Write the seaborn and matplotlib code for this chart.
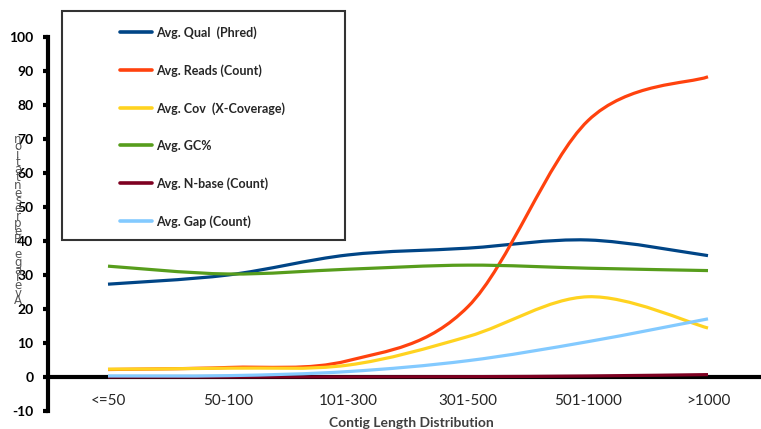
import numpy as np
import pandas as pd
import matplotlib
matplotlib.use("Agg")
import matplotlib.pyplot as plt
import seaborn as sns
from matplotlib.path import Path
from matplotlib.patches import PathPatch, Rectangle
from matplotlib.lines import Line2D

# Contig length bins and per-bin averages
categories = ["<=50", "50-100", "101-300", "301-500", "501-1000", ">1000"]
avg_qual = [27.3, 30.0, 35.9, 37.9, 40.3, 35.7]
avg_reads = [2.2, 2.8, 4.8, 20.7, 75.4, 88.3]
avg_cov = [2.3, 2.6, 3.5, 11.9, 23.6, 14.4]
avg_gc = [32.6, 30.3, 31.7, 32.9, 32.0, 31.3]
avg_nbase = [0.0, 0.0, 0.05, 0.1, 0.3, 0.7]
avg_gap = [0.3, 0.4, 1.6, 4.8, 10.4, 17.1]

series_names = ["Avg. Qual  (Phred)", "Avg. Reads (Count)", "Avg. Cov  (X-Coverage)",
                "Avg. GC%", "Avg. N-base (Count)", "Avg. Gap (Count)"]
series_colors = ["#004586", "#ff420e", "#ffd320", "#579d1c", "#7e0021", "#83caff"]
y_ticks = list(range(-10, 101, 10))

df = pd.DataFrame({
    "bin": categories,
    series_names[0]: avg_qual,
    series_names[1]: avg_reads,
    series_names[2]: avg_cov,
    series_names[3]: avg_gc,
    series_names[4]: avg_nbase,
    series_names[5]: avg_gap,
})
df["pos"] = np.arange(len(df))


def smooth_path(xs, ys):
    """Smoothed line through the points (Catmull-Rom style Bezier pieces)."""
    p = np.column_stack([np.asarray(xs, float), np.asarray(ys, float)])
    n = len(p)
    verts = [tuple(p[0])]
    codes = [Path.MOVETO]
    for i in range(n - 1):
        prev_pt = p[i - 1] if i > 0 else p[i]
        next_pt = p[i + 2] if i + 2 < n else p[i + 1]
        c1 = p[i] + (p[i + 1] - prev_pt) / 6.0
        c2 = p[i + 1] - (next_pt - p[i]) / 6.0
        verts += [tuple(c1), tuple(c2), tuple(p[i + 1])]
        codes += [Path.CURVE4] * 3
    return Path(verts, codes)


sns.set_theme(style="white")
plt.rcParams["font.family"] = ["Lato", "DejaVu Sans"]

fig = plt.figure(figsize=(7.61, 4.29), dpi=100)
ax = fig.add_axes([48 / 761, 18 / 429, 720 / 761, 374 / 429])

palette = sns.color_palette(series_colors)
for name, color in zip(series_names, palette):
    path = smooth_path(df["pos"], df[name])
    ax.add_patch(PathPatch(path, facecolor="none", edgecolor=color, lw=2.3,
                           capstyle="butt", joinstyle="round", zorder=3))

ax.set_xlim(-0.5, 5.5)
ax.set_ylim(-10, 100)
ax.set_yticks(y_ticks)
ax.set_yticklabels([str(t) for t in y_ticks], fontsize=10, fontweight="bold", color="black")
ax.set_xticks(df["pos"])
ax.set_xticklabels(categories, fontsize=9.5, fontweight="bold", color="black")
ax.set_xticks(df["pos"][:-1] + 0.5, minor=True)
ax.tick_params(axis="x", which="major", length=0, pad=12)
ax.tick_params(axis="x", which="minor", length=3, width=3, color="black", direction="out")
ax.tick_params(axis="y", length=3.5, width=3, color="black", direction="out", pad=7, left=True)

sns.despine(ax=ax, top=True, right=True)
ax.spines["bottom"].set_position(("data", 0))
for side in ("left", "bottom"):
    ax.spines[side].set_linewidth(3)
    ax.spines[side].set_color("black")
    ax.spines[side].set_zorder(2)
ax.grid(False)

ax.set_xlabel("Contig Length Distribution", fontsize=10, fontweight="bold", color="#404040")
ax.xaxis.set_label_coords(0.505, -0.015)

# Vertical axis title, stacked letter by letter
fig.text(18 / 761, 1 - 220 / 429, "\n".join(reversed("Average Representation")),
         ha="center", va="center", fontsize=8.5, linespacing=0.47, color="#555555",
         family=["DejaVu Sans"])

# Legend inside a framed box
handles = [Line2D([0], [0], color=c, lw=2.6) for c in palette]
ax.legend(handles, series_names, loc="upper left",
          bbox_to_anchor=(120 / 761, 1 - 26 / 429), bbox_transform=fig.transFigure,
          frameon=False, borderpad=0, borderaxespad=0, handlelength=2.56,
          handletextpad=0.32, labelspacing=2.02,
          prop={"family": "Lato", "weight": "bold", "size": 9}, labelcolor="#262626")
fig.patches.append(Rectangle((62 / 761, 1 - 240 / 429), (345 - 62) / 761, (240 - 11) / 429,
                             transform=fig.transFigure, fill=False, edgecolor="#333333",
                             lw=1.5, zorder=5))

fig.savefig("out.png", dpi=100)
